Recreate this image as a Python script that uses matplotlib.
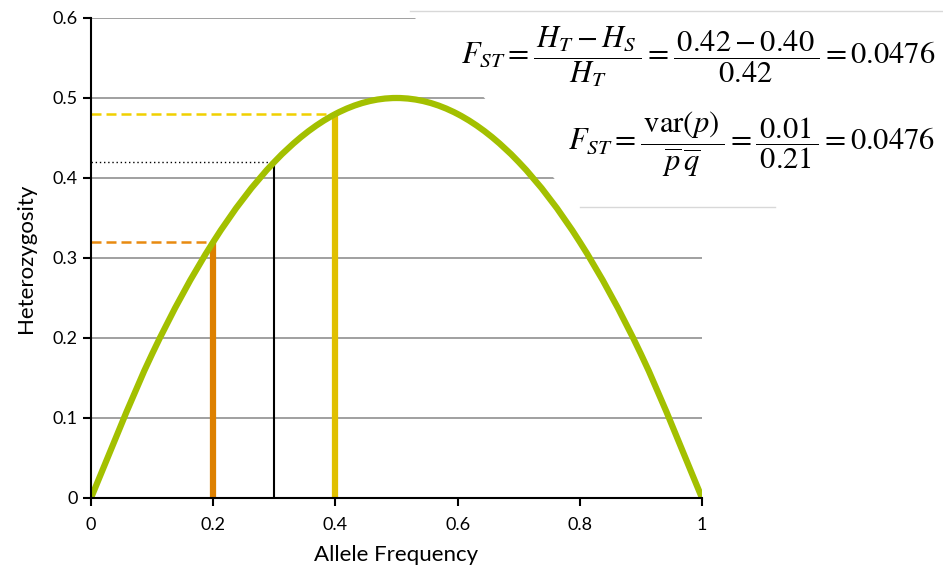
import matplotlib
matplotlib.use("Agg")
import matplotlib.pyplot as plt
from matplotlib.patches import Polygon, PathPatch
from matplotlib.path import Path
from matplotlib.lines import Line2D

# Data
allele_freq = [0.0, 0.1, 0.2, 0.3, 0.4, 0.5, 0.6, 0.7, 0.8, 0.9, 1.0]
heterozygosity = [0.0, 0.18, 0.32, 0.42, 0.48, 0.5, 0.48, 0.42, 0.32, 0.18, 0.0]
pop1_p, pop1_h = 0.2, 0.32
pop2_p, pop2_h = 0.4, 0.48
mean_p, total_h = 0.3, 0.42
x_ticks = [0, 0.2, 0.4, 0.6, 0.8, 1]
x_tick_labels = ["0", "0.2", "0.4", "0.6", "0.8", "1"]
y_ticks = [0, 0.1, 0.2, 0.3, 0.4, 0.5, 0.6]
y_tick_labels = ["0", "0.1", "0.2", "0.3", "0.4", "0.5", "0.6"]

plt.rcParams['font.family'] = ['Lato', 'DejaVu Sans']
plt.rcParams['mathtext.fontset'] = 'stix'

W, H = 943, 571
fig = plt.figure(figsize=(W / 100, H / 100), dpi=100)
ax = fig.add_axes([91 / W, 73 / H, 611 / W, 480 / H])
ax.set_xlim(0, 1)
ax.set_ylim(0, 0.6)

# gridlines
ax.set_axisbelow(True)
for yv in y_ticks[1:]:
    ax.axhline(yv, color="#a0a0a0", lw=1.4, zorder=0.5)

# white panel behind equations (covers gridlines)
def fp(x, y):
    return (x / W, 1 - y / H)

poly = Polygon([fp(409, 11), fp(W, 11), fp(W, 207), fp(579, 207)], closed=True,
               facecolor="white", edgecolor="none", transform=fig.transFigure,
               zorder=1, clip_on=False)
ax.add_patch(poly)
fig.add_artist(Line2D([410 / W, 1], [1 - 11 / H] * 2, color="#d8d8d8", lw=1.0,
                      transform=fig.transFigure))
fig.add_artist(Line2D([580 / W, 775 / W], [1 - 207 / H] * 2, color="#d8d8d8", lw=1.0,
                      transform=fig.transFigure))

# reference lines
ax.plot([0, pop1_p], [pop1_h, pop1_h], color="#e88a10", lw=1.8, ls=(0, (4, 2)), zorder=2)
ax.plot([0, pop2_p], [pop2_h, pop2_h], color="#f0d000", lw=1.8, ls=(0, (4, 2)), zorder=2)
ax.plot([0, mean_p], [total_h, total_h], color="black", lw=1.0, ls=(0, (1, 2)), zorder=2)

ax.plot([pop1_p, pop1_p], [0, pop1_h], color="#dd8000", lw=4.5, solid_capstyle="butt", zorder=2)
ax.plot([pop2_p, pop2_p], [0, pop2_h], color="#e0c000", lw=4.5, solid_capstyle="butt", zorder=2)
ax.plot([mean_p, mean_p], [0, total_h], color="black", lw=1.5, solid_capstyle="butt", zorder=2)

# smoothed curve (Catmull-Rom style, as a spreadsheet "smoothed line")
xs, ys = allele_freq, heterozygosity
verts = [(xs[0], ys[0])]
codes = [Path.MOVETO]
n = len(xs)
for i in range(n - 1):
    x0, y0 = (xs[i - 1], ys[i - 1]) if i > 0 else (xs[i], ys[i])
    x1, y1 = xs[i], ys[i]
    x2, y2 = xs[i + 1], ys[i + 1]
    x3, y3 = (xs[i + 2], ys[i + 2]) if i + 2 < n else (xs[i + 1], ys[i + 1])
    c1 = (x1 + (x2 - x0) / 6, y1 + (y2 - y0) / 6)
    c2 = (x2 - (x3 - x1) / 6, y2 - (y3 - y1) / 6)
    verts += [c1, c2, (x2, y2)]
    codes += [Path.CURVE4] * 3
curve = PathPatch(Path(verts, codes), facecolor="none", edgecolor="#a3c000",
                  lw=4.5, zorder=3, capstyle="butt", joinstyle="round")
ax.add_patch(curve)

# axes styling
for s in ["top", "right"]:
    ax.spines[s].set_visible(False)
for s in ["left", "bottom"]:
    ax.spines[s].set_linewidth(1.5)
    ax.spines[s].set_zorder(4)
ax.set_xticks(x_ticks)
ax.set_xticklabels(x_tick_labels)
ax.set_yticks(y_ticks)
ax.set_yticklabels(y_tick_labels)
ax.tick_params(axis="both", direction="out", length=6, width=1.5, labelsize=13, colors="black")
ax.tick_params(axis="x", pad=8)
ax.set_xlabel("Allele Frequency", fontsize=16, labelpad=8)
ax.set_ylabel("Heterozygosity", fontsize=16, labelpad=12)

# equations
fig.text(935 / W, 1 - 57 / H,
         r"$F_{ST}=\dfrac{\,H_T-H_S\,}{H_T}=\dfrac{\,0.42-0.40\,}{0.42}=0.0476$",
         ha="right", va="center", fontsize=22, zorder=5)
fig.text(935 / W, 1 - 144 / H,
         r"$F_{ST}=\dfrac{\,\mathrm{var}(p)\,}{\overline{p}\,\overline{q}}=\dfrac{\,0.01\,}{0.21}=0.0476$",
         ha="right", va="center", fontsize=22, zorder=5)

fig.savefig("out.png", dpi=100)
